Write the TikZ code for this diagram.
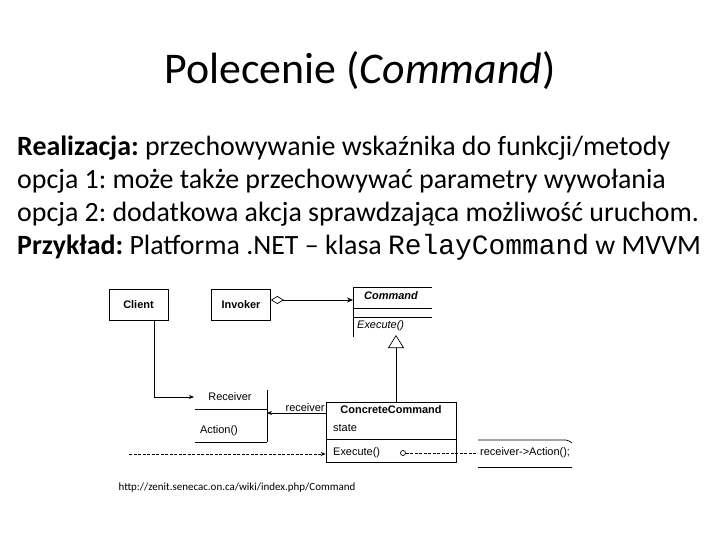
\documentclass[tikz,border=0pt]{standalone}
\usepackage{fontspec}
\setmainfont{Carlito}
\setmonofont{Liberation Mono}
\newfontfamily\umlfont{Liberation Sans}
\usetikzlibrary{arrows.meta,positioning,calc}
\frenchspacing
\tikzset{
  ttl/.style={font=\fontsize{44}{50}\selectfont,anchor=base,inner sep=0pt},
  txt/.style={font=\fontsize{28}{33}\selectfont,anchor=base west,inner sep=0pt},
  uml/.style={font=\umlfont\fontsize{11}{13}\selectfont,inner sep=0pt},
  ubox/.style={draw,line width=.7pt,minimum width=59bp,minimum height=31bp,
               uml,font=\umlfont\bfseries\fontsize{11}{13}\selectfont},
  ln/.style={line width=.7pt},
  ar/.style={ln,-{Stealth[length=5bp,width=4bp]}},
  dar/.style={ar,dashed,dash pattern=on 3bp off 1.5bp},
  url/.style={font=\fontsize{11}{13}\selectfont,inner sep=0pt},
}
\begin{document}
\begin{tikzpicture}[x=1bp,y=-1bp]
  \useasboundingbox (0,0) rectangle (720,540);
  \node[ttl] (title) at (360,84) {Polecenie (\textit{Command})};
  \node[txt] (l1) at (17,156) {\textbf{Realizacja:} przechowywanie wskaźnika do funkcji/metody};
  \node[txt] (l2) at (17,189) {opcja 1: może także przechowywać parametry wywołania};
  \node[txt] (l3) at (17,222) {opcja 2: dodatkowa akcja sprawdzająca możliwość uruchom.};
  \node[txt] (l4) at (17,255) {\textbf{Przykład:} Platforma .NET -- klasa \texttt{RelayCommand} w MVVM};
  % classes
  \node[ubox] (client)  at (138.5,304.5) {Client};
  \node[ubox] (invoker) at (241,304.5) {Invoker};
  % Command (abstract)
  \coordinate (cmdtl) at (353,287);
  \draw[ln] (353,337) -- (cmdtl) -- (432,287);
  \draw[ln] (353,308) -- (432,308) (353,317) -- (432,317);
  \node[uml,font=\umlfont\bfseries\itshape\fontsize{11}{13}\selectfont] (cmdname) at (391,296) {Command};
  \node[uml,anchor=west,font=\umlfont\itshape\fontsize{11}{13}\selectfont] (cmdexec) at (357,326) {Execute()};
  \coordinate (cmdin) at (353,300);
  \coordinate (cmdbase) at (396,335);
  % Receiver
  \draw[ln] (195,409) -- (267,409) (195,442) -- (267,442) (267,390) -- (267,442);
  \node[uml] (receiver) at (230,397) {Receiver};
  \node[uml] (action) at (219,431) {Action()};
  \coordinate (recvin) at (194,397);
  \coordinate (recvside) at (267,413);
  \coordinate (clientdown) at (154,397);
  % ConcreteCommand
  \node[draw,ln,minimum width=130bp,minimum height=60bp,inner sep=0pt] (concrete) at (391,432) {};
  \draw[ln] (concrete.west |- 0,439) -- (concrete.east |- 0,439);
  \node[uml,font=\umlfont\bfseries\fontsize{11}{13}\selectfont] (ccname) at (391,410) {ConcreteCommand};
  \node[uml,anchor=west] (state) at (333,428) {state};
  \node[uml,anchor=west] (execute) at (333,453) {Execute()};
  \node[circle,draw,ln,inner sep=0pt,minimum size=5bp] (hook) at (403,453) {};
  % note
  \coordinate (notein) at (477,453);
  \draw[ln] (478,440) -- (566,440) to[out=0,in=150] (572,443);
  \draw[ln] (478,467) -- (572,467);
  \node[uml,anchor=west] (notetxt) at (480,453) {receiver->Action();};
  % connectors
  \draw[ln,{Diamond[open,length=13bp,width=8bp]}-{Stealth[length=6bp,width=5bp]}] (invoker.east |- cmdin) -- (cmdin);
  \draw[ln,-{Triangle[open,length=13bp,width=16bp]}] (concrete.north -| cmdbase) -- (cmdbase);
  \draw[ar] (client.south -| clientdown) |- (recvin);
  \draw[ar] (concrete.west |- recvside) -- node[uml,above=1bp,pos=.35]{receiver} (recvside);
  \coordinate (dstart) at (129,454);
  \draw[dar] (dstart) -- (concrete.west |- dstart);
  \draw[ln,dashed,dash pattern=on 3bp off 1.5bp] (hook.east) -- (notein);
  \node[url] (url) at (237,488) {http://zenit.senecac.on.ca/wiki/index.php/Command};
\end{tikzpicture}
\end{document}
